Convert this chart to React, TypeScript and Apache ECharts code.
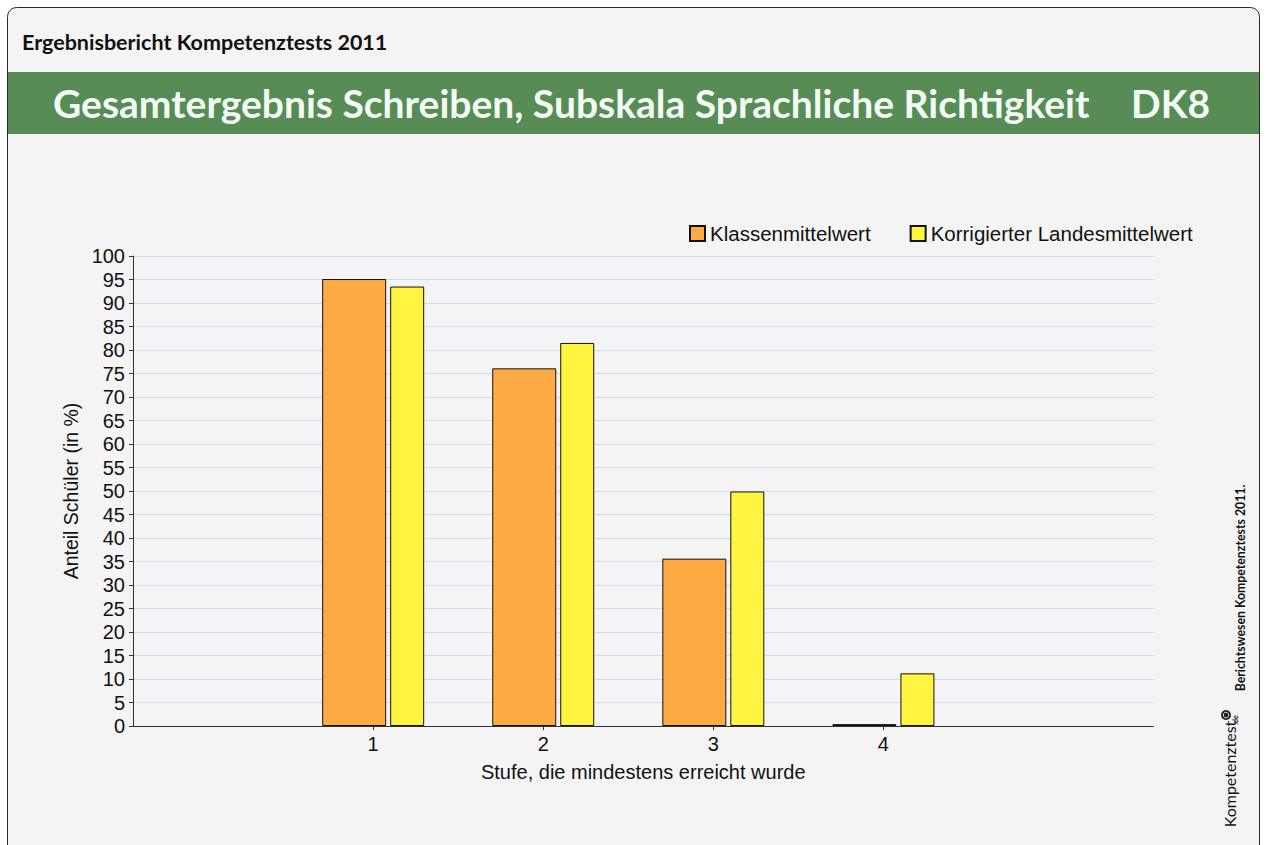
import React, { useEffect, useRef } from "react";
import * as echarts from "echarts";

const stufen = [1, 2, 3, 4];
const klassenmittelwert = [95.1, 76.1, 35.6, 0.4];
const landesmittelwert = [93.5, 81.5, 49.9, 11.2];
const seriesNames = ["Klassenmittelwert", "Korrigierter Landesmittelwert"];
const headerText = "Ergebnisbericht Kompetenztests 2011";
const titleText = "Gesamtergebnis Schreiben, Subskala Sprachliche Richtigkeit";
const titleCode = "DK8";
const xAxisName = "Stufe, die mindestens erreicht wurde";
const yAxisName = "Anteil Schüler (in %)";
const sideText = "Berichtswesen Kompetenztests 2011.";

export default function App() {
  const ref = useRef<HTMLDivElement>(null);
  useEffect(() => {
    if (!ref.current) return;
    const chart = echarts.init(ref.current, undefined, { renderer: "svg" });
    const option: any = {
      animation: false,
      backgroundColor: "#ffffff",
      graphic: [
        {
          type: "rect",
          z: -10,
          shape: { x: 7.5, y: 7.5, width: 1252, height: 880, r: 9 },
          style: { fill: "#f4f4f4", stroke: "#2a2a2a", lineWidth: 1 },
        },
        {
          type: "rect",
          z: -9,
          shape: { x: 8, y: 72, width: 1251, height: 62 },
          style: { fill: "#578d55" },
        },
        {
          type: "text",
          x: 22,
          y: 42,
          style: {
            text: headerText,
            fontFamily: "Lato",
            fontWeight: "bold",
            fontSize: 21.5,
            fill: "#111",
            verticalAlign: "middle",
          },
        },
        {
          type: "text",
          x: 53,
          y: 103,
          style: {
            text: titleText,
            fontFamily: "Lato",
            fontWeight: "bold",
            fontSize: 39,
            fill: "#f2fbf6",
            verticalAlign: "middle",
          },
        },
        {
          type: "text",
          x: 1210,
          y: 103,
          style: {
            text: titleCode,
            fontFamily: "Lato",
            fontWeight: "bold",
            fontSize: 39,
            fill: "#f2fbf6",
            align: "right",
            verticalAlign: "middle",
          },
        },
        {
          type: "text",
          x: 1240,
          y: 588,
          rotation: Math.PI / 2,
          style: {
            text: sideText,
            fontFamily: "Lato",
            fontWeight: "bold",
            fontSize: 12.3,
            fill: "#111",
            align: "center",
            verticalAlign: "middle",
          },
        },
        {
          type: "text",
          x: 1229,
          y: 774,
          rotation: Math.PI / 2,
          style: {
            text: "Kompetenztest",
            fontFamily: "Lato",
            fontSize: 16,
            fill: "#111",
            align: "center",
            verticalAlign: "middle",
          },
        },
        {
          type: "text",
          x: 1235,
          y: 720,
          rotation: Math.PI / 2,
          style: {
            text: ".de",
            fontFamily: "Lato",
            fontWeight: "bold",
            fontSize: 7,
            fill: "#111",
            align: "center",
            verticalAlign: "middle",
          },
        },
        {
          type: "circle",
          shape: { cx: 1226, cy: 715, r: 5 },
          style: { fill: "#222" },
        },
        {
          type: "circle",
          shape: { cx: 1226, cy: 715, r: 2.8 },
          style: { fill: "none", stroke: "#ddd", lineWidth: 1 },
        },
      ],
      legend: {
        left: 684,
        top: 218,
        itemWidth: 15,
        itemHeight: 15,
        itemGap: 39,
        icon: "rect",
        textStyle: { fontFamily: "Liberation Sans", fontSize: 20.5, color: "#111" },
        data: seriesNames,
      },
      grid: { left: 133, right: 112.5, top: 256, bottom: 119, containLabel: false },
      xAxis: {
        type: "value",
        min: -0.412,
        max: 5.588,
        name: xAxisName,
        nameLocation: "middle",
        nameGap: 36,
        nameTextStyle: { fontFamily: "Liberation Sans", fontSize: 20, color: "#111" },
        axisLine: { show: true, onZero: false, lineStyle: { color: "#333", width: 1 } },
        axisTick: { show: true, length: 4, lineStyle: { color: "#333" }, customValues: stufen },
        axisLabel: {
          customValues: stufen,
          fontFamily: "Liberation Sans",
          fontSize: 20,
          color: "#111",
          margin: 8,
          formatter: (v: number) => String(v),
        },
        splitLine: { show: false },
      },
      yAxis: {
        type: "value",
        min: 0,
        max: 100,
        interval: 5,
        name: yAxisName,
        nameLocation: "middle",
        nameGap: 49,
        nameTextStyle: { fontFamily: "Liberation Sans", fontSize: 19.5, color: "#111" },
        axisLine: { show: true, onZero: false, lineStyle: { color: "#333", width: 1 } },
        axisTick: { show: true, length: 4, lineStyle: { color: "#333" } },
        axisLabel: { fontFamily: "Liberation Sans", fontSize: 20, color: "#111", margin: 8 },
        splitLine: { show: true, lineStyle: { color: "#ccdaf2", width: 1 } },
      },
      series: [
        {
          name: seriesNames[0],
          type: "bar",
          barWidth: 64,
          barGap: "6.25%",
          data: stufen.map((s, i) => [s, klassenmittelwert[i]]),
          itemStyle: { color: "#ffab45", borderColor: "#111", borderWidth: 1 },
        },
        {
          name: seriesNames[1],
          type: "bar",
          barWidth: 34,
          barGap: "6.25%",
          data: stufen.map((s, i) => [s, landesmittelwert[i]]),
          itemStyle: { color: "#fff540", borderColor: "#111", borderWidth: 1 },
        },
      ],
    };
    chart.setOption(option);
    return () => chart.dispose();
  }, []);
  return (
    <div
      ref={ref}
      style={{ position: "absolute", left: 0, top: 0, width: 1266, height: 845 }}
    />
  );
}
